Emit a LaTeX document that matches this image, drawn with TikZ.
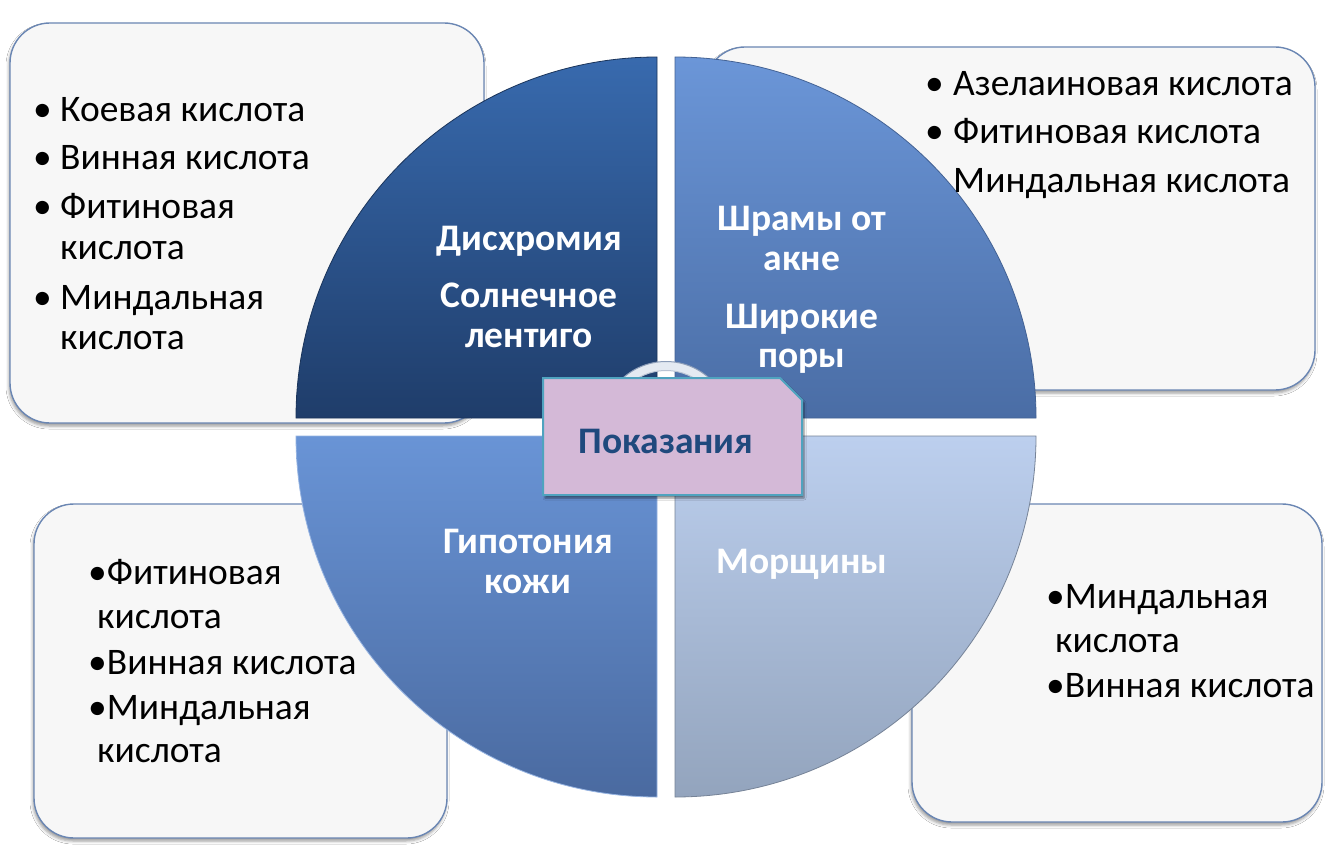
\documentclass[tikz,border=0pt]{standalone}
\usepackage{fontspec}
\setmainfont{Carlito}
\usetikzlibrary{shadows.blur}
\definecolor{boxfill}{HTML}{F7F7F7}
\definecolor{boxedge}{HTML}{6A86B3}
\definecolor{tlTop}{HTML}{386AAE}
\definecolor{tlBot}{HTML}{1F3D6A}
\definecolor{trTop}{HTML}{6B96D8}
\definecolor{trBot}{HTML}{4A6DA5}
\definecolor{blTop}{HTML}{6994D6}
\definecolor{blBot}{HTML}{4A6AA0}
\definecolor{brTop}{HTML}{BCCFEE}
\definecolor{brBot}{HTML}{93A4BD}
\definecolor{ringc}{HTML}{E4EAF2}
\definecolor{ringedge}{HTML}{8C9DB8}
\definecolor{lilac}{HTML}{D4B9D7}
\definecolor{teal}{HTML}{4FA3BF}
\definecolor{navy}{HTML}{1F497D}
\begin{document}
\begin{tikzpicture}[x=1pt,y=-1pt,
  box/.style={draw=boxedge, line width=1.4pt, fill=boxfill, rounded corners=40pt,
    blur shadow={shadow xshift=-1pt, shadow yshift=-3pt, shadow blur radius=3pt, shadow opacity=40}},
  quad/.style={line width=0.8pt},
  item/.style={anchor=base west, inner sep=0pt, font=\fontsize{37.5}{44}\selectfont, text=black},
  lab/.style={anchor=base, inner sep=0pt, font=\fontsize{37.5}{44}\selectfont\bfseries, text=white},
]
\useasboundingbox (0,0) rectangle (1337,853);
\fill[white] (0,0) rectangle (1337,853);

% side boxes
\draw[box] (10,23) rectangle (484,423);
\draw[box] (705,47) rectangle (1315,390);
\draw[box] (34,504) rectangle (447,838);
\draw[box] (912,504) rectangle (1322,822);

% quadrants
\shade[quad, top color=tlTop, bottom color=tlBot, draw=tlBot!85!black]
  (657,418) -- (296,418) arc[start angle=180, end angle=90, radius=361pt] -- cycle;
\shade[quad, top color=trTop, bottom color=trBot, draw=trBot!90!black]
  (675,418) -- (675,57) arc[start angle=90, end angle=0, radius=361pt] -- cycle;
\shade[quad, top color=blTop, bottom color=blBot, draw=blTop!70!white]
  (657,436) -- (296,436) arc[start angle=180, end angle=270, radius=361pt] -- cycle;
\shade[quad, top color=brTop, bottom color=brBot, draw=brBot!80!black]
  (675,436) -- (1036,436) arc[start angle=0, end angle=-90, radius=361pt] -- cycle;

% ring
\draw[line width=9pt, ringc] (666,426) circle (60);
\draw[line width=1pt, ringedge] (666,426) circle (64.5);
\draw[line width=1pt, ringedge!60!white] (666,426) circle (55.5);

% centre box
\draw[fill=lilac, draw=teal, line width=2pt,
  blur shadow={shadow xshift=2pt, shadow yshift=-3pt, shadow blur radius=2pt, shadow opacity=50}]
  (543,378) -- (780,378) -- (802,400) -- (802,495) -- (543,495) -- cycle;
\node[anchor=base, inner sep=0pt, font=\fontsize{37.5}{44}\selectfont\bfseries, text=navy] (pok) at (666,453) {Показания};

% quadrant labels
\node[lab] (l1) at (529,250) {Дисхромия};
\node[lab] (l2) at (529,307) {Солнечное};
\node[lab] (l3) at (529,347) {лентиго};
\node[lab] (l4) at (802,230) {Шрамы от};
\node[lab] (l5) at (802,270) {акне};
\node[lab] (l6) at (802,328) {Широкие};
\node[lab] (l7) at (802,367) {поры};
\node[lab] (l8) at (528,553) {Гипотония};
\node[lab] (l9) at (528,593) {кожи};
\node[lab] (l10) at (802,573) {Морщины};

% top-left box
\node[item] (a1) at (33,122) {•};
\node[item] (a2) at (60,122) {Коевая кислота};
\node[item] (a3) at (33,170) {•};
\node[item] (a4) at (60,170) {Винная кислота};
\node[item] (a5) at (33,218) {•};
\node[item] (a6) at (60,218) {Фитиновая};
\node[item] (a7) at (60,259) {кислота};
\node[item] (a8) at (33,309) {•};
\node[item] (a9) at (60,309) {Миндальная};
\node[item] (a10) at (60,349) {кислота};

% top-right box
\node[item] (b1) at (925,96) {•};
\node[item] (b2) at (953,96) {Азелаиновая кислота};
\node[item] (b3) at (925,144) {•};
\node[item] (b4) at (953,144) {Фитиновая кислота};
\node[item] (b5) at (953,192) {Миндальная кислота};

% bottom-left box
\node[item] (c1) at (88,584) {•Фитиновая};
\node[item] (c2) at (97,628) {кислота};
\node[item] (c3) at (88,674) {•Винная кислота};
\node[item] (c4) at (88,719) {•Миндальная};
\node[item] (c5) at (97,762) {кислота};

% bottom-right box
\node[item] (d1) at (1046,608) {•Миндальная};
\node[item] (d2) at (1055,652) {кислота};
\node[item] (d3) at (1046,697) {•Винная кислота};
\end{tikzpicture}
\end{document}
